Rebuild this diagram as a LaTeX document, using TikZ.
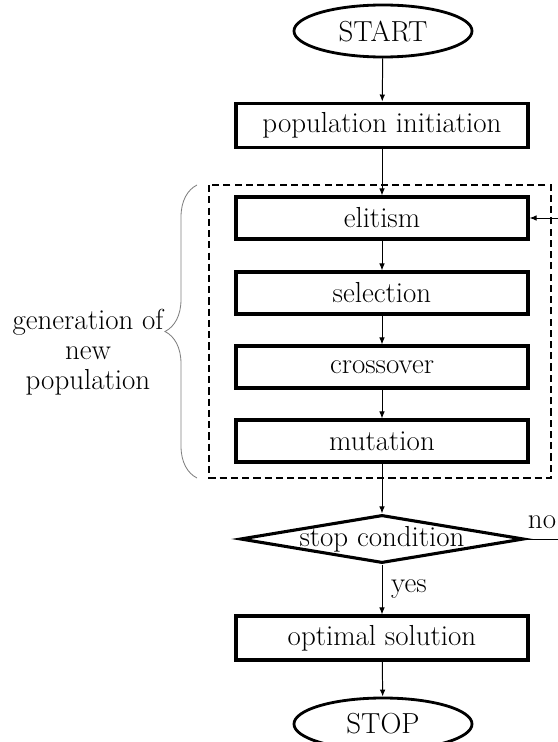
\documentclass[tikz,border=0pt]{standalone}
\usepackage{tikz}
\usetikzlibrary{arrows.meta,shapes.geometric,decorations.pathreplacing}
\tikzset{>={Latex[length=5pt,width=4pt]}}
\tikzset{
	stepbox/.style={draw, line width=2.2pt, rectangle, minimum width=7.3cm, minimum height=1.05cm, inner sep=0pt},
	terminal/.style={draw, line width=2pt, ellipse, minimum width=4.45cm, minimum height=1.3cm, inner sep=0pt},
	decision/.style={draw, line width=2.2pt, diamond, aspect=5.9, minimum width=7cm, minimum height=1.15cm, inner xsep=0pt, inner ysep=-2pt},
	flow/.style={->, line width=0.7pt}
}

\begin{document}
\begin{tikzpicture}[x=0.025cm, y=-0.025cm, font=\fontsize{20.6}{21.4}\selectfont]
			% Frame
			\useasboundingbox (0,0) rectangle (558,742);
			
			% Terminals
			\node[terminal] (start) at (383,31) {START};
			\node[terminal] (stop) at (383,724) {STOP};
			
			% Boxes
			\node[stepbox, minimum height=1.12cm] (init) at (382,125.5) {population initiation};
			\node[stepbox] (elitism) at (382,218) {elitism};
			\node[stepbox] (selection) at (382,293) {selection};
			\node[stepbox] (crossover) at (382,367) {crossover};
			\node[stepbox] (mutation) at (382,441) {mutation};
			\node[decision] (cond) at (382,539) {stop condition};
			\node[stepbox, minimum height=1.1cm] (optimal) at (382,638) {optimal solution};
			
			% Dashed group
			\draw[dashed, line width=1.1pt, dash pattern=on 5pt off 3pt] (209,185) rectangle (551,478);
			\draw[decorate, decoration={brace, amplitude=0.8cm}, gray, line width=0.6pt] (197,478) -- (197,185);
			\node[align=center] (group) at (88,352) {generation of\\new\\population};
			
			% Arrows
			\draw[flow] (start) -- (init);
			\draw[flow] (init) -- (elitism);
			\draw[flow] (elitism) -- (selection);
			\draw[flow] (selection) -- (crossover);
			\draw[flow] (crossover) -- (mutation);
			\draw[flow] (mutation) -- (cond);
			\draw[flow] (cond) -- node[right=0.1cm] {yes} (optimal);
			\draw[flow] (optimal) -- (stop);
			\draw[flow] (cond.east) -- ++(60,0) coordinate (back) |- (elitism.east);
			\node (no) at (542,522) {no};
		\end{tikzpicture}
\end{document}
